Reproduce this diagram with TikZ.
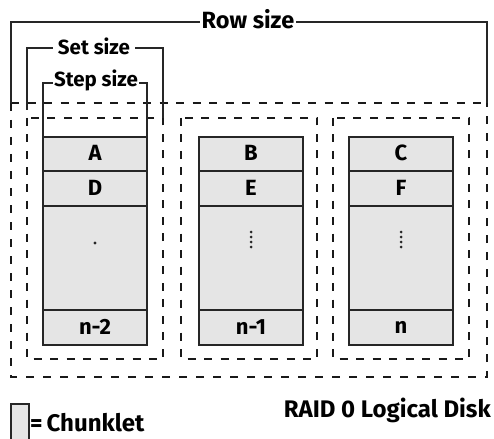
\documentclass[tikz,border=0pt]{standalone}
\usepackage{fontspec}
\setmainfont{Fira Sans}
\begin{document}
\begin{tikzpicture}[x=1pt,y=-1pt,
  solidln/.style={line width=1.6pt,black!85},
  chunk/.style={fill=black!10,draw=black!85,line width=1.6pt},
  dashbox/.style={line width=2pt,dash pattern=on 8pt off 8.5pt,black!90},
  outerbox/.style={line width=1.5pt,dash pattern=on 8pt off 9pt,black!90},
  dotmark/.style={fill=black!85},
  cell/.style={font=\bfseries\fontsize{22}{24}\selectfont,inner sep=0pt},
  gaplbl/.style={font=\bfseries\fontsize{20.5}{22}\selectfont,fill=white,inner sep=3pt}]
\useasboundingbox (0,0) rectangle (494,438);
% outer logical disk box
\draw[outerbox] (11,103) -- (11,377) -- (487,377) -- (487,103);
\draw[line width=2.6pt,dash pattern=on 8pt off 8.5pt,black!90] (11,103) -- (487,103);
% inner set boxes
\foreach \xa in {27,181,333}{
  \draw[dashbox] (\xa,118) rectangle ++(136,241);
}
% chunklet columns
\foreach \xa in {43,199,349}{
  \fill[black!10] (\xa,137) rectangle ++(104,208);
  \draw[solidln] (\xa,137) rectangle ++(104,208);
  \draw[solidln] (\xa,171) -- ++(104,0);
  \draw[solidln] (\xa,206) -- ++(104,0);
  \draw[solidln] (\xa,310) -- ++(104,0);
}
% row size bracket
\coordinate (r1) at (11,103);
\coordinate (r2) at (11,22);
\coordinate (r3) at (487,22);
\coordinate (r4) at (487,103);
\draw[solidln] (r1) -- (r2) -- (r3) -- (r4);
\node[gaplbl,font=\bfseries\fontsize{23.5}{25}\selectfont,inner sep=2pt] (row) at (248,19) {Row size};
% set size bracket
\coordinate (s1) at (27,110);
\coordinate (s2) at (27,48);
\coordinate (s3) at (163,48);
\coordinate (s4) at (163,118);
\draw[solidln] (s1) -- (s2) -- (s3) -- (s4);
\node[gaplbl,inner sep=5pt] (set) at (94,46) {Set size};
% step size bracket
\coordinate (t1) at (43,137);
\coordinate (t2) at (43,83);
\coordinate (t3) at (147,83);
\coordinate (t4) at (147,137);
\draw[solidln] (t1) -- (t2) -- (t3) -- (t4);
\node[gaplbl,inner sep=1pt] (step) at (96,80) {Step size};
% cell labels
\node[cell] (A) at (95,153) {A};
\node[cell] (D) at (95,188) {D};
\node[cell] (B) at (251,153) {B};
\node[cell] (E) at (251,188) {E};
\node[cell] (C) at (401,153) {C};
\node[cell] (F) at (401,188) {F};
\node[cell] (n2) at (95,327) {n-2};
\node[cell] (n1) at (251,327) {n-1};
\node[cell] (n0) at (401,327) {n};
% continuation dots
\fill[dotmark] (95,243) circle (1.6);
\foreach \xa in {251,401}{
  \foreach \ya in {232,237,242,247}{
    \fill[dotmark] (\xa,\ya) circle (1.5);
  }
}
% legend
\draw[chunk] (11,404) rectangle (29,442);
\node[font=\bfseries\fontsize{24}{26}\selectfont,inner sep=0pt,anchor=base west] (leg) at (30,431) {=\,Chunklet};
\node[font=\bfseries\fontsize{24}{26}\selectfont,inner sep=0pt,anchor=base east] (raid) at (491,417) {RAID 0 Logical Disk};
\end{tikzpicture}
\end{document}
